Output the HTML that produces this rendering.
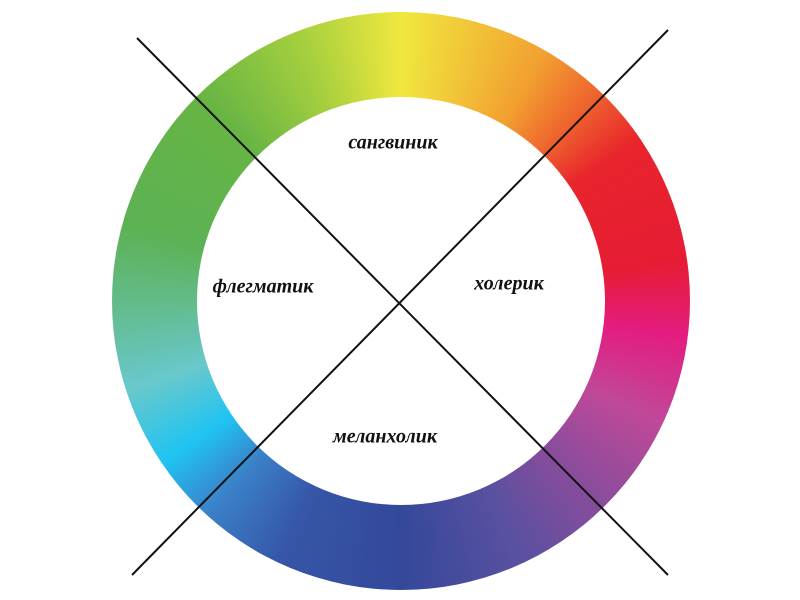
<!DOCTYPE html>
<html><head><meta charset="utf-8"><style>
html,body{margin:0;padding:0;background:#fff;width:800px;height:600px;overflow:hidden;position:relative}
.ring{position:absolute;left:112px;top:12px;width:578px;height:578px;border-radius:50%;
background:conic-gradient(from 0deg,#f0e83e 0deg,#f2a030 30deg,#ef6a2e 42deg,#e8242c 56deg,#e61c34 82deg,#e41c80 97deg,#c04898 115deg,#8a4c9c 135deg,#5a50a0 155deg,#34489a 180deg,#3656a8 205deg,#3a80c8 222deg,#20c4f2 236deg,#68c8cc 252deg,#64bc90 268deg,#5cb254 285deg,#66b444 315deg,#a8d03e 340deg,#f0e83e 360deg)}
.inner{position:absolute;left:197px;top:97px;width:408px;height:408px;border-radius:50%;background:#fff}
.t{position:absolute;font-family:"Liberation Serif",serif;font-style:italic;font-weight:bold;font-size:20px;color:#111;transform:translate(-50%,-50%);white-space:nowrap}
svg{position:absolute;left:0;top:0}
</style></head><body>
<div class="ring"></div><div class="inner"></div>
<svg width="800" height="600"><line x1="137" y1="38" x2="668" y2="575" stroke="#111" stroke-width="2"/><line x1="668" y1="30" x2="132" y2="575" stroke="#111" stroke-width="2"/></svg>
<div class="t" style="left:393px;top:143px">сангвиник</div>
<div class="t" style="left:263px;top:287px">флегматик</div>
<div class="t" style="left:509px;top:284px">холерик</div>
<div class="t" style="left:385px;top:437px">меланхолик</div>
</body></html>
